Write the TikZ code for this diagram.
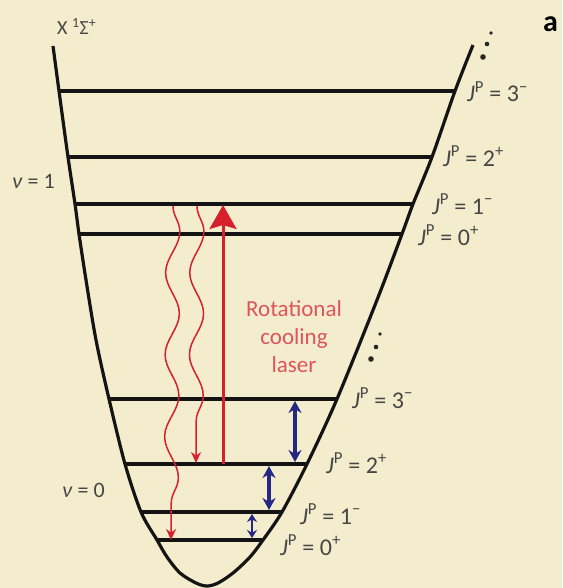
\documentclass[tikz,border=0pt]{standalone}
\usepackage{fontspec}
\setmainfont{Carlito}
\usetikzlibrary{arrows.meta,decorations.pathmorphing}
\definecolor{bgCream}{RGB}{243,237,205}
\definecolor{dRed}{RGB}{214,32,44}
\definecolor{lRed}{RGB}{222,84,92}
\definecolor{dNavy}{RGB}{36,40,130}
\definecolor{tGray}{RGB}{70,70,70}
\newcommand{\jpar}[2]{\textit{J}\textsuperscript{P} = #1\textsuperscript{#2}}

\begin{document}
\begin{tikzpicture}[x=1pt,y=-1pt,
  lvl/.style={line width=3.2pt,black!92},
  pot/.style={line width=3.2pt,black!92,line join=round},
  lab/.style={anchor=base west,inner sep=0pt,text=tGray,font=\fontsize{24}{28}\selectfont},
  vib/.style={anchor=base west,inner sep=0pt,text=tGray,font=\fontsize{22}{26}\selectfont},
  pump/.style={-{Stealth[length=24pt,width=27pt,inset=4pt]},line width=3pt,dRed},
  decay/.style={-{Stealth[length=11pt,width=10pt]},line width=1.5pt,dRed,decorate,
    decoration={snake,segment length=82pt,amplitude=7pt,post length=13pt}},
  rot/.style={{Stealth[length=12pt,width=13pt]}-{Stealth[length=12pt,width=13pt]},line width=3.2pt,dNavy},
  rots/.style={{Stealth[length=8pt,width=10pt]}-{Stealth[length=8pt,width=10pt]},line width=2.4pt,dNavy}]
\fill[bgCream] (0,0) rectangle (562,588);
\useasboundingbox (0,0) rectangle (562,588);

\coordinate (tl) at (53,46);
\coordinate (tr) at (473,45);
\coordinate (bot) at (207,586);
\foreach \n/\y/\xl/\xr in {u3/91/59/455,u2/157/68/432,u1/204/75/413,u0/234/79/402,
  g3/399/109/337,g2/464/125/307,g1/512/141/282,g0/540/157/263}{
  \coordinate (\n l) at (\xl,\y);
  \coordinate (\n r) at (\xr,\y);
}
\draw[pot] plot[smooth,tension=0.5] coordinates {(tl) (u3l) (u2l) (u1l) (u0l) (86,280) (96,340)
  (g3l) (g2l) (g1l) (g0l) (167,557) (180,573) (196,583) (bot) (218,583) (233,573) (250,557)
  (g0r) (g1r) (g2r) (g3r) (377,300) (u0r) (u1r) (u2r) (u3r) (tr)};
\foreach \n in {u3,u2,u1,u0,g3,g2,g1,g0} \draw[lvl] (\n l) -- (\n r);

\foreach \x/\y/\r in {491/33/1.8,487/44/2.3,483/57/2.8,380/334/1.8,376/347/2.3,371/359/2.8}
  \fill[black!85] (\x,\y) circle[radius=\r];

\node[lab] (ju3) at (467,102) {\jpar{3}{−}};
\node[lab] (ju2) at (443,166) {\jpar{2}{+}};
\node[lab] (ju1) at (432,214) {\jpar{1}{−}};
\node[lab] (ju0) at (418,245) {\jpar{0}{+}};
\node[lab] (jg3) at (352,408) {\jpar{3}{−}};
\node[lab] (jg2) at (326,473) {\jpar{2}{+}};
\node[lab] (jg1) at (300,524) {\jpar{1}{−}};
\node[lab] (jg0) at (280,555) {\jpar{0}{+}};
\node[vib] (v1) at (12,188) {\textit{ν} = 1};
\node[vib] (v0) at (62,497) {\textit{ν} = 0};
\node[anchor=base west,inner sep=0pt,text=tGray,font=\fontsize{20}{24}\selectfont] (state) at (57,35) {X \textsuperscript{1}Σ\textsuperscript{+}};
\node[anchor=base west,inner sep=0pt,font=\bfseries\fontsize{30}{30}\selectfont] (panel) at (543,32) {a};
\node[align=center,inner sep=0pt,text=lRed,font=\fontsize{23}{28}\selectfont] (rcl) at (294,337) {Rotational\\cooling\\laser};

\coordinate (lasA) at (223,464);
\coordinate (lasB) at (223,205);
\draw[pump] (lasA) -- (lasB);
\coordinate (w1a) at (173,206);
\coordinate (w1b) at (171,540);
\coordinate (w2a) at (197,206);
\coordinate (w2b) at (196,463);
\draw[decay] (w1a) -- (w1b);
\draw[decay] (w2a) -- (w2b);
\coordinate (ra1) at (295,401);
\coordinate (ra2) at (295,462);
\coordinate (rb1) at (269,466);
\coordinate (rb2) at (269,510);
\coordinate (rc1) at (252,514);
\coordinate (rc2) at (252,538);
\draw[rot] (ra1) -- (ra2);
\draw[rot] (rb1) -- (rb2);
\draw[rots] (rc1) -- (rc2);
\end{tikzpicture}
\end{document}
